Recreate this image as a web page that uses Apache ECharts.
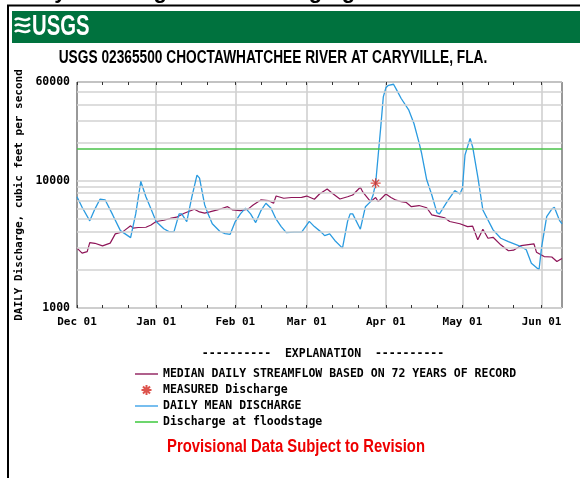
<!DOCTYPE html>
<html>
<head>
<meta charset="utf-8">
<script src="https://cdn.jsdelivr.net/npm/echarts@6/dist/echarts.min.js"></script>
<style>
  html, body { margin: 0; padding: 0; background: #fff; }
  #chart { width: 580px; height: 478px; }
</style>
</head>
<body>
<div id="chart"></div>
<script>
// x = days since Dec 01 (Dec 01 .. Jun 09)
var dayCount = 191
var monthStarts = [0, 31, 62, 90, 121, 151, 182]
var monthLabels = ['Dec 01', 'Jan 01', 'Feb 01', 'Mar 01', 'Apr 01', 'May 01', 'Jun 01']
var yLabels = [1000, 10000, 60000]
var minorGrid = [2000, 3000, 4000, 5000, 6000, 7000, 8000, 9000, 20000, 30000, 40000, 50000]
var floodStage = 18000

// daily mean discharge, [day, cfs]
var meanFlow = [
  [0, 7500], [2, 6200], [5, 4850], [7, 6000], [9, 7170], [11, 7100], [14, 5400], [17, 4060],
  [21, 3580], [23, 5500], [25, 9900], [27, 7500], [29, 6000], [31, 4800], [34, 4200], [36, 3990],
  [38, 3990], [40, 5500], [41, 5500], [43, 4790], [45, 7500], [47, 11100], [48, 10500], [50, 6500],
  [51, 5730], [53, 4600], [56, 4000], [58, 3850], [60, 3800], [62, 4790], [64, 5500], [66, 6100],
  [68, 5500], [70, 4700], [72, 5800], [74, 6670], [76, 6090], [78, 5000], [80, 4370], [82, 3920],
  [85, 3950], [88, 3950], [91, 4800], [93, 4370], [96, 3900], [97, 3710], [99, 3830], [101, 3400],
  [104, 2960], [106, 4800], [107, 5500], [108, 5500], [111, 4170], [113, 6270], [115, 6870],
  [116, 7750], [117, 9580], [118, 16000], [119, 26600], [120, 45800], [121, 54000], [122, 56500],
  [124, 57600], [125, 53000], [127, 44500], [130, 36000], [132, 28300], [134, 20000], [135, 16500],
  [137, 10200], [139, 7750], [141, 5630], [142, 5500], [145, 6870], [148, 8380], [150, 7890],
  [151, 8750], [152, 16000], [154, 21600], [155, 18500], [157, 10800], [159, 5910], [163, 4120],
  [166, 3540], [169, 3330], [173, 3100], [176, 2870], [178, 2250], [181, 2000], [182, 3000],
  [184, 5240], [186, 6000], [187, 6210], [189, 4900], [190, 4600]
]

// median daily streamflow, [day, cfs]
var medianFlow = [
  [0, 2960], [2, 2700], [4, 2780], [5, 3270], [7, 3230], [10, 3080], [13, 3240], [15, 3830],
  [18, 3990], [21, 4430], [22, 4250], [24, 4300], [27, 4320], [29, 4500], [31, 4790], [34, 4900],
  [37, 5090], [39, 5180], [42, 5570], [46, 5980], [48, 5700], [50, 5570], [52, 5700], [55, 5910],
  [57, 6090], [59, 6270], [61, 5910], [64, 5840], [67, 6000], [69, 6470], [72, 7080], [75, 7000],
  [77, 6670], [78, 7610], [81, 7300], [84, 7400], [88, 7430], [90, 7600], [93, 7170], [95, 7890],
  [98, 8640], [100, 8000], [103, 7210], [106, 7500], [108, 7750], [111, 8910], [112, 8150],
  [115, 6870], [117, 7400], [118, 6870], [121, 7890], [123, 7400], [125, 7050], [127, 6870],
  [129, 6770], [131, 6270], [134, 6400], [137, 6150], [139, 5400], [142, 5240], [144, 5130],
  [146, 4790], [150, 4600], [153, 4370], [155, 4400], [157, 3440], [159, 4170], [161, 3540],
  [163, 3600], [166, 3140], [169, 2820], [171, 2850], [174, 3100], [179, 3200], [180, 2750],
  [183, 2540], [186, 2520], [188, 2320], [190, 2450]
]

var measured = [[117, 9600]]

var days = []
for (var i = 0; i < dayCount; i++) days.push(String(i))

// ticks on the 1st, 11th and 21st of each month
var tickDays = []
monthStarts.forEach(function (m) { tickDays.push(m, m + 10, m + 20) })

var mono = 'DejaVu Sans Mono'
var asterisk = 'path://M5,0L5,10M0,5L10,5M1.5,1.5L8.5,8.5M1.5,8.5L8.5,1.5'
var thinLine = 'path://M0,0H46V3H0Z'
var thickLine = 'path://M0,0H23V2H0Z'

var xAxisBase = {
  type: 'category',
  data: days,
  boundaryGap: false,
  axisLine: { show: false },
  axisTick: {
    show: true,
    inside: true,
    length: 3,
    interval: function (idx) { return tickDays.indexOf(idx) >= 0 },
    lineStyle: { color: '#333' }
  }
}

// little wave mark of the USGS logo
function wave(y) {
  return {
    type: 'bezierCurve',
    shape: { x1: 15, y1: y, cpx1: 19, cpy1: y - 5, cpx2: 24, cpy2: y + 4, x2: 30, y2: y - 2 },
    style: { stroke: '#fff', lineWidth: 2.5, fill: null }
  }
}

var chart = echarts.init(document.getElementById('chart'))
chart.setOption({
  animation: false,
  grid: { left: 77, right: 18, top: 82, bottom: 170, show: true, borderColor: '#333', borderWidth: 1 },
  xAxis: [
    Object.assign({}, xAxisBase, {
      position: 'bottom',
      axisLabel: {
        interval: function (idx) { return monthStarts.indexOf(idx) >= 0 },
        formatter: function (v, idx) { return monthLabels[monthStarts.indexOf(Number(v))] || '' },
        margin: 9,
        fontFamily: mono, fontWeight: 'bold', fontSize: 11, color: '#000'
      },
      splitLine: {
        show: true,
        interval: function (idx) { return idx > 0 && monthStarts.indexOf(idx) >= 0 },
        lineStyle: { color: '#cdcdcd', width: 1.5 }
      }
    }),
    Object.assign({}, xAxisBase, {
      position: 'top',
      axisLabel: { show: false },
      splitLine: { show: false }
    })
  ],
  yAxis: {
    type: 'log',
    logBase: 10,
    min: 1000,
    max: 60000,
    name: 'DAILY Discharge, cubic feet per second',
    nameLocation: 'middle',
    nameGap: 47,
    nameTextStyle: { fontFamily: mono, fontWeight: 'bold', fontSize: 11, color: '#000' },
    axisLine: { show: false },
    axisTick: { show: false },
    axisLabel: {
      margin: 7,
      fontFamily: mono, fontWeight: 'bold', fontSize: 11.5, color: '#000',
      formatter: function (v) {
        var r = Math.round(v)
        return yLabels.indexOf(r) >= 0 ? String(r) : ''
      }
    },
    splitLine: { show: true, lineStyle: { color: '#d2d2d2', width: 1.5 } }
  },
  legend: {
    orient: 'vertical',
    left: 130,
    top: 363,
    itemWidth: 23,
    itemHeight: 10,
    itemGap: 4,
    textStyle: { fontFamily: mono, fontWeight: 'bold', fontSize: 11.5, color: '#000', lineHeight: 12 },
    data: [
      { name: 'MEDIAN DAILY STREAMFLOW BASED ON 72 YEARS OF RECORD', icon: thickLine, itemStyle: { color: '#b0608c' } },
      { name: 'MEASURED Discharge' },
      { name: 'DAILY MEAN DISCHARGE', icon: thinLine, itemStyle: { color: '#4aa8ea' } },
      { name: 'Discharge at floodstage', icon: thinLine, itemStyle: { color: '#3cc83c' } }
    ]
  },
  series: [
    {
      name: 'grid',
      type: 'line',
      data: [],
      symbol: 'none',
      silent: true,
      z: 1,
      markLine: {
        silent: true,
        symbol: 'none',
        label: { show: false },
        lineStyle: { color: '#d2d2d2', width: 1.5, type: 'solid' },
        data: minorGrid.map(function (v) { return { yAxis: v } })
      }
    },
    {
      name: 'Discharge at floodstage',
      type: 'line',
      data: [],
      symbol: 'none',
      color: '#48c248',
      lineStyle: { color: '#48c248', width: 1.5 },
      z: 2,
      markLine: {
        silent: true,
        symbol: 'none',
        label: { show: false },
        lineStyle: { color: '#48c248', width: 1.5, type: 'solid' },
        data: [{ yAxis: floodStage }]
      }
    },
    {
      name: 'MEDIAN DAILY STREAMFLOW BASED ON 72 YEARS OF RECORD',
      type: 'line',
      data: medianFlow,
      symbol: 'none',
      color: '#8e1558',
      lineStyle: { color: '#8e1558', width: 1.2 },
      z: 3
    },
    {
      name: 'DAILY MEAN DISCHARGE',
      type: 'line',
      data: meanFlow,
      symbol: 'none',
      color: '#2b9be0',
      lineStyle: { color: '#2b9be0', width: 1.3 },
      z: 4
    },
    {
      name: 'MEASURED Discharge',
      type: 'scatter',
      data: measured,
      symbol: asterisk,
      symbolSize: 10,
      itemStyle: { color: 'rgba(0,0,0,0)', borderColor: '#d4281f', borderWidth: 1.3 },
      z: 5
    }
  ],
  graphic: [
    { type: 'text', x: 14, y: 3, style: { text: 'Daily Discharge at USGS Gaging Station Choctawhatchee', font: 'bold 22px "Liberation Sans"', fill: '#000', verticalAlign: 'bottom', textVerticalAlign: 'bottom' } },
    { type: 'line', shape: { x1: 7, y1: 5.5, x2: 580, y2: 5.5 }, style: { stroke: '#000', lineWidth: 2 } },
    { type: 'line', shape: { x1: 8, y1: 5, x2: 8, y2: 478 }, style: { stroke: '#000', lineWidth: 2 } },
    { type: 'rect', shape: { x: 12, y: 11, width: 568, height: 32 }, style: { fill: '#00723e' } },
    wave(20), wave(26), wave(32),
    { type: 'text', x: 32, y: 27, scaleX: 0.7, style: { text: 'USGS', font: 'bold 29px "Liberation Sans"', fill: '#fff', verticalAlign: 'middle', textVerticalAlign: 'middle' } },
    { type: 'text', x: 273, y: 58.5, scaleX: 0.762, style: { text: 'USGS 02365500 CHOCTAWHATCHEE RIVER AT CARYVILLE, FLA.', font: 'bold 18px "Liberation Sans"', fill: '#000', align: 'center', textAlign: 'center', verticalAlign: 'middle', textVerticalAlign: 'middle' } },
    { type: 'text', x: 323, y: 354, style: { text: '----------  EXPLANATION  ----------', font: 'bold 11.5px "DejaVu Sans Mono"', fill: '#000', align: 'center', textAlign: 'center', verticalAlign: 'middle', textVerticalAlign: 'middle' } },
    { type: 'text', x: 296, y: 447, scaleX: 0.824, style: { text: 'Provisional Data Subject to Revision', font: 'bold 18px "Liberation Sans"', fill: '#ee0000', align: 'center', textAlign: 'center', verticalAlign: 'middle', textVerticalAlign: 'middle' } }
  ]
})
</script>
</body>
</html>
